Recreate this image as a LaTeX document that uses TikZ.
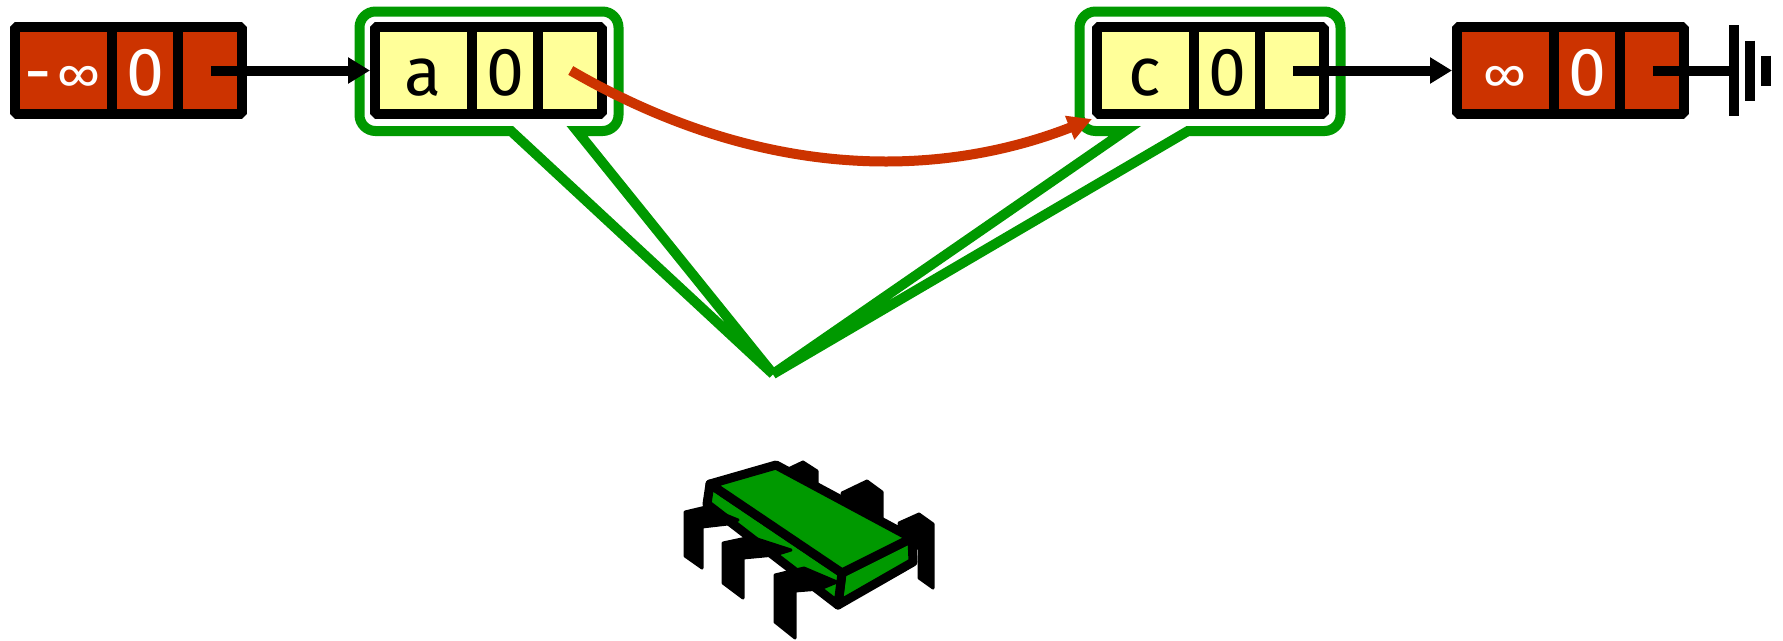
\documentclass[tikz,border=0pt]{standalone}
\usepackage{fontspec}
\setmainfont{Fira Sans}
\usetikzlibrary{arrows.meta,calc}

\definecolor{nodered}{HTML}{CC3300}
\definecolor{nodeyellow}{HTML}{FFFF99}
\definecolor{lockgreen}{HTML}{009900}

\tikzset{
  listbox/.style={draw=black, line width=10pt, line join=bevel,
    minimum width=227pt, minimum height=87pt, inner sep=0pt},
  divider/.style={draw=black, line width=10pt},
  celltext/.style={font=\fontsize{68}{68}\selectfont, inner sep=0pt, anchor=base},
  nextlink/.style={draw=black, line width=10pt, -{Triangle[length=22pt,width=25pt]}},
  nulllink/.style={draw=black, line width=10pt},
  groundbar/.style={draw=black, line width=10pt},
  backlink/.style={draw=nodered, line width=10pt, -{Triangle[length=24pt,width=24pt]}},
  callout/.style={draw=lockgreen, line width=10pt, line join=miter},
  chipface/.style={fill=lockgreen, draw=black, line width=9pt, line join=round},
  chipleg/.style={fill=black, draw=black, line width=3pt, line join=round},
}

% #1 name, #2 centre x, #3 fill, #4 text colour, #5 key, #6 level
\newcommand\skiplistnode[6]{%
  \node[listbox, fill=#3] (#1) at (#2,70.5) {};
  \draw[divider] ([xshift=-16.5pt]#1.north) -- ([xshift=-16.5pt]#1.south);
  \draw[divider] ([xshift=49.5pt]#1.north) -- ([xshift=49.5pt]#1.south);
  \node[celltext, text=#4] (#1k) at ([shift={(-65.75,24.5)}]#1.center) {#5};
  \node[celltext, text=#4] (#1l) at ([shift={(16.5,24.5)}]#1.center) {#6};
  \coordinate (#1p) at ([xshift=82.25pt]#1.center);
}
\newcommand\infsym{{\fontsize{48}{48}\selectfont ∞}}

\begin{document}
\begin{tikzpicture}[x=1pt,y=-1pt]
\fill[white] (0,0) rectangle (1783,640);
\useasboundingbox (0,0) rectangle (1783,640);

% lock callouts around the two inner nodes, meeting at the processor
\coordinate (tip) at (773,374);
\draw[callout] (577,131) -- (tip) -- (511,131) [rounded corners=16pt]
  -- (359.5,131) -- (359.5,11.5) -- (618.5,11.5) -- (618.5,131) [sharp corners] -- cycle;
\draw[callout] (1188,131) -- (tip) -- (1125,131) [rounded corners=16pt]
  -- (1079.5,131) -- (1079.5,11.5) -- (1340.5,11.5) -- (1340.5,131) [sharp corners] -- cycle;

% list nodes
\skiplistnode{L1}{128.5}{nodered}{white}{-\hspace{6pt}\raisebox{4pt}{\infsym}}{0}
\skiplistnode{L2}{488.5}{nodeyellow}{black}{a}{0}
\skiplistnode{L3}{1210.5}{nodeyellow}{black}{c}{0}
\skiplistnode{L4}{1570.5}{nodered}{white}{\raisebox{4pt}{\infsym}}{0}

% next pointers
\draw[nextlink] (L1p) -- (L2.west);
\draw[nextlink] (L3p) -- (L4.west);

% null pointer with ground symbol
\coordinate (gnd) at (1733.7,70.5);
\draw[nulllink] (L4p) -- (gnd);
\draw[groundbar] ([yshift=45.5pt]gnd) -- ([yshift=-45.5pt]gnd);
\draw[groundbar] ([shift={(16.3pt,30pt)}]gnd) -- ([shift={(16.3pt,-30pt)}]gnd);
\draw[groundbar] ([shift={(32.6pt,15pt)}]gnd) -- ([shift={(32.6pt,-15pt)}]gnd);

% pointer being swung from a to c
\draw[backlink] (L2p) .. controls (782,193) and (962,170) .. (L3.south west);

% processor chip: back legs, body faces, front legs
\filldraw[chipleg] (784,471) -- (803,462) -- (817,471) -- (817,492) -- (788,492) -- cycle;
\filldraw[chipleg] (842,493) -- (867,481) -- (882,492) -- (882,522) -- (848,522) -- cycle;
\filldraw[chipleg] (899,523) -- (919,514) -- (933,524) -- (933,588) -- (919,578) -- (919,548) -- (903,548) -- cycle;
\filldraw[chipface] (842,573) -- (912,538) -- (913,562) -- (838,605) -- cycle;
\filldraw[chipface] (710,484) -- (842,573) -- (838,605) -- (707,504) -- cycle;
\filldraw[chipface] (710,484) -- (776,465) -- (912,538) -- (842,573) -- cycle;
\filldraw[chipleg] (685,512) -- (706,507) -- (738,520) -- (728,524) -- (702,527) -- (702,568) -- (685,556) -- cycle;
\filldraw[chipleg] (723,543) -- (751,537) -- (791,550) -- (775,555) -- (743,558) -- (743,598) -- (723,583) -- cycle;
\filldraw[chipleg] (775,575) -- (804,568) -- (837,582) -- (820,589) -- (795,591) -- (795,638) -- (775,622) -- cycle;
\end{tikzpicture}
\end{document}
